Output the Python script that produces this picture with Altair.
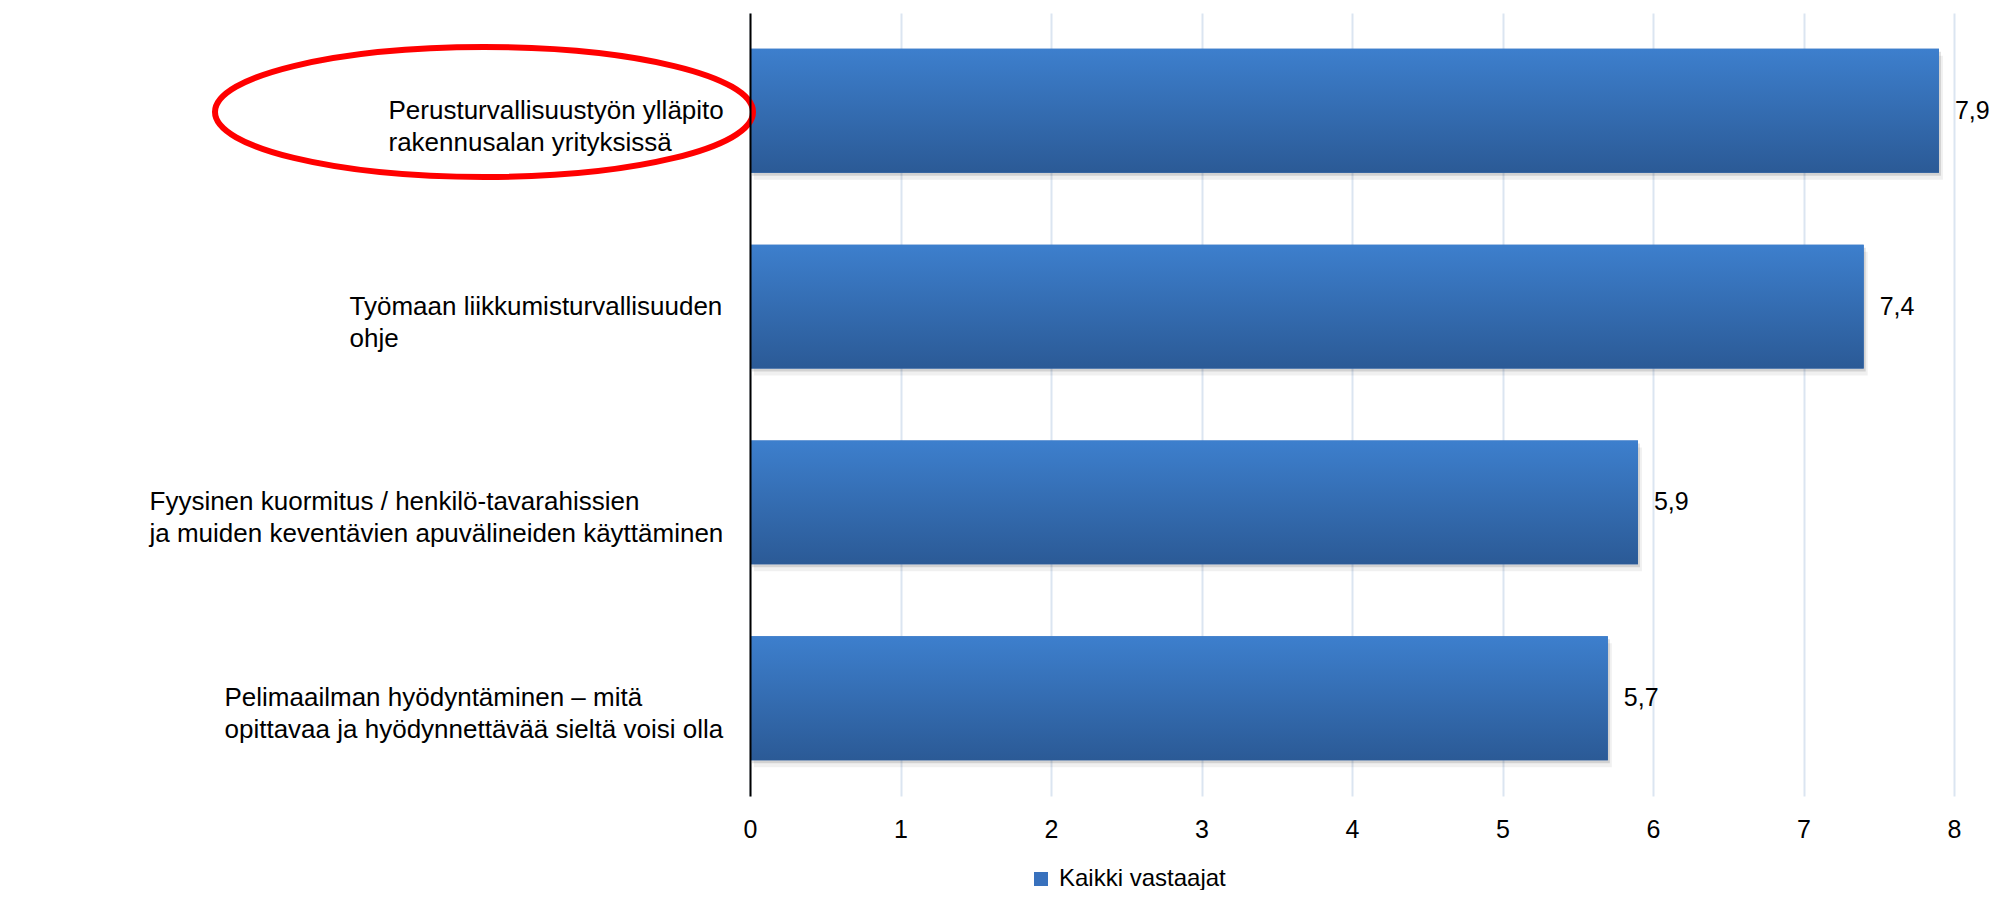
import altair as alt
import pandas as pd

# ---- data ----
categories = [
    "Perusturvallisuustyön ylläpito\nrakennusalan yrityksissä",
    "Työmaan liikkumisturvallisuuden\nohje",
    "Fyysinen kuormitus / henkilö-tavarahissien\nja muiden keventävien apuvälineiden käyttäminen",
    "Pelimaailman hyödyntäminen – mitä\nopittavaa ja hyödynnettävää sieltä voisi olla",
]
values = [7.9, 7.4, 5.9, 5.7]
series_name = "Kaikki vastaajat"
x_ticks = [0, 1, 2, 3, 4, 5, 6, 7, 8]

df = pd.DataFrame({"category": categories, "value": values, "series": [series_name] * len(values)})
note_df = pd.DataFrame({"note": ["highlight"]})

# ---- style ----
FONT = "Liberation Sans, Arial, sans-serif"
GRID = "#dbe5f1"
ELLIPSE_PATH = ("M -1 0 C -1 -0.1334 -0.5523 -0.2416 0 -0.2416 "
                "C 0.5523 -0.2416 1 -0.1334 1 0 "
                "C 1 0.1334 0.5523 0.2416 0 0.2416 "
                "C -0.5523 0.2416 -1 0.1334 -1 0 Z")

label_pad_expr = ("indexof(datum.value,'Perus')==0 ? 362 : "
                  "indexof(datum.value,'Työmaan')==0 ? 401 : "
                  "indexof(datum.value,'Fyysinen')==0 ? 601 : 526")

y_enc = alt.Y(
    "category:N", sort=categories, title=None,
    scale=alt.Scale(paddingInner=0.367, paddingOuter=0.183),
    axis=alt.Axis(
        domain=True, domainColor="#000000", domainWidth=2, ticks=False, grid=False,
        labelExpr="split(datum.label, '\\n')", labelAlign="left", labelBaseline="middle",
        labelPadding=alt.ExprRef(expr=label_pad_expr),
        labelFont=FONT, labelFontSize=26, labelLineHeight=32, labelColor="#000000",
        labelLimit=0, zindex=2,
    ),
)
x_enc = alt.X(
    "value:Q", title=None,
    scale=alt.Scale(domain=[0, 8], nice=False, zero=True),
    axis=alt.Axis(
        values=x_ticks, domain=False, ticks=False, grid=True, gridColor=GRID, gridWidth=2,
        labelFont=FONT, labelFontSize=25, labelColor="#000000", labelPadding=21,
        labelFlush=False, labelOverlap=False, format="d",
    ),
)

base = alt.Chart(df)

shadow1 = base.mark_bar(color="#000000", opacity=0.06, xOffset=4, yOffset=7).encode(x=x_enc, y=y_enc)
shadow2 = base.mark_bar(color="#000000", opacity=0.12, xOffset=2, yOffset=3).encode(x=x_enc, y=y_enc)

solid = base.mark_bar().encode(
    x=x_enc, y=y_enc,
    color=alt.Color(
        "series:N",
        scale=alt.Scale(range=["#3871bd"]),
        legend=alt.Legend(
            orient="none", legendX=279, legendY=854, title=None,
            symbolType="square", symbolSize=196, symbolStrokeWidth=0,
            labelFont=FONT, labelFontSize=24, labelColor="#000000",
            labelOffset=6, padding=0, labelLimit=0,
        ),
    ),
)

grad = base.mark_bar(
    color=alt.Gradient(
        gradient="linear",
        stops=[alt.GradientStop(color="#3d7fcd", offset=0),
               alt.GradientStop(color="#2b5a96", offset=1)],
        x1=0, x2=0, y1=0, y2=1,
    )
).encode(x=x_enc, y=y_enc)

value_labels = base.transform_calculate(
    lbl="replace(format(datum.value, '.1f'), '.', ',')"
).mark_text(
    align="left", baseline="middle", dx=16, font=FONT, fontSize=25, color="#000000"
).encode(x=x_enc, y=y_enc, text="lbl:N")

ellipse = alt.Chart(note_df).mark_point(
    shape=ELLIPSE_PATH, size=289444, filled=False, color="#ff0000",
    stroke="#ff0000", strokeWidth=6, opacity=1,
).encode(x=alt.value(-266), y=alt.value(99))

chart = alt.layer(shadow1, shadow2, solid, grad, value_labels, ellipse).properties(
    width=1204, height=783,
    padding={"left": 742, "top": 5, "right": 40, "bottom": 94},
    autosize=alt.AutoSizeParams(type="none"),
).configure_view(stroke=None)

chart.save("out.html", embed_options={"renderer": "svg", "actions": False})
